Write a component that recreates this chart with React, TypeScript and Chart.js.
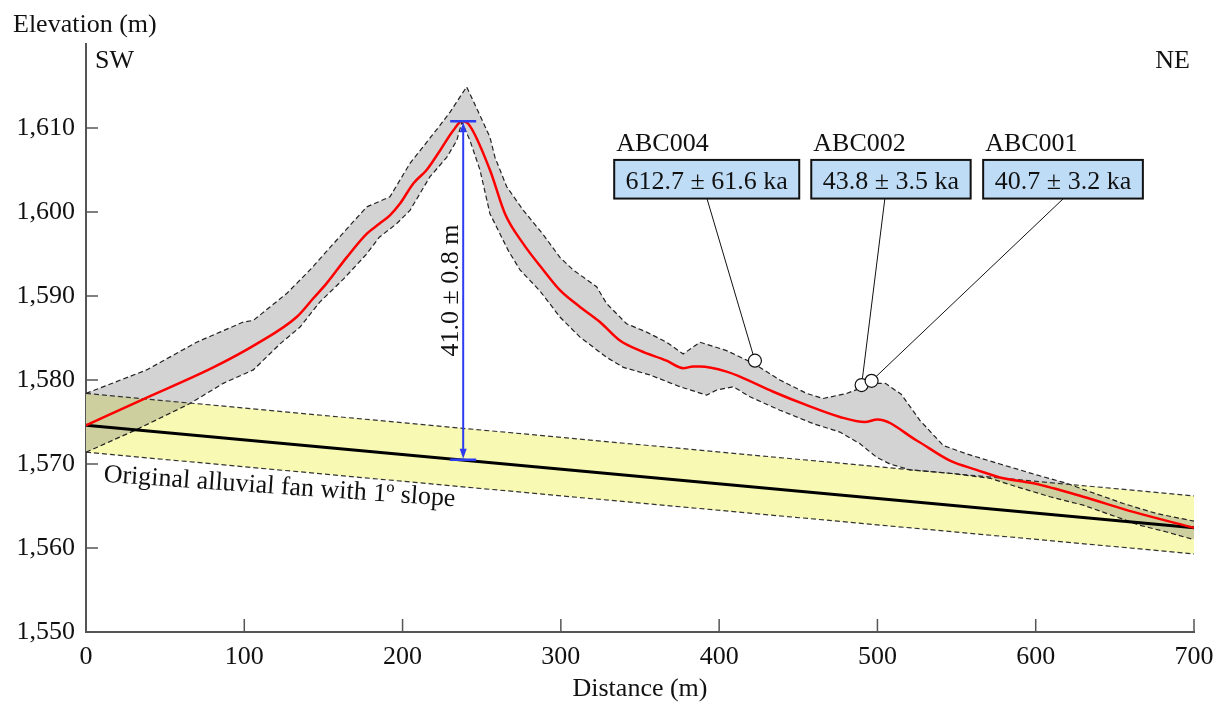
import React, { useEffect, useRef } from 'react';
import { Chart, registerables } from 'chart.js';

Chart.register(...registerables);

const FONT_FAMILY = '"Liberation Serif", "Times New Roman", Times, serif';
const FONT_SIZE = 26;
const TEXT_COLOR = '#111111';
const AXIS_COLOR = '#555555';
const BLUE = '#2d3cf0';

// ---------------- data ----------------
const xTickValues = [0, 100, 200, 300, 400, 500, 600, 700];
const yTickValues = [1550, 1560, 1570, 1580, 1590, 1600, 1610];

// central swath profile (red)
const profileDist = [0, 36, 80.4, 107.8, 133.1, 143.5, 152, 164.7, 177.3, 185.3, 192, 198.4, 206.8, 215.2, 223.6, 232, 237.5, 241.5, 255.2, 264.7, 276.3, 288.9, 299.4, 312.1, 324.7, 337.3, 350, 366.8, 377.3, 383.6, 387.9, 404.7, 413.1, 434.2, 455.3, 476.3, 492.1, 500, 524.8, 545.8, 562.6, 577.4, 598.5, 630, 661.6, 700];
const profileElev = [1574.6, 1577.7, 1581.5, 1584.3, 1587.5, 1589.7, 1591.5, 1594.6, 1597.4, 1598.6, 1599.6, 1601.0, 1603.4, 1605.0, 1607.3, 1609.7, 1610.8, 1610.5, 1605.0, 1599.8, 1596.2, 1593.1, 1590.7, 1588.7, 1586.9, 1584.7, 1583.5, 1582.3, 1581.4, 1581.6, 1581.6, 1581.0, 1580.4, 1578.6, 1577.0, 1575.6, 1575.0, 1575.3, 1572.8, 1570.4, 1569.3, 1568.4, 1567.7, 1566.1, 1564.3, 1562.4];

// swath envelope (grey band)
const envUpperDist = [0, 38.3, 69.9, 99.4, 105.7, 111, 126.8, 141.5, 156.2, 177.3, 192, 204.7, 219.4, 223.6, 230, 240.5, 248.9, 255.2, 258.4, 265.8, 276.3, 288.9, 299.4, 307.8, 322.6, 328.9, 341.5, 354.2, 366.8, 377.3, 387.9, 404.7, 421.5, 438.4, 455.3, 465.8, 480.5, 497.4, 505, 515, 526.8, 541.6, 556.4, 577.4, 600.6, 619.5, 634.2, 655.3, 676.4, 700];
const envUpperElev = [1578.4, 1581.2, 1584.5, 1586.9, 1587.1, 1587.9, 1590.3, 1593.1, 1596.2, 1600.6, 1601.8, 1605.8, 1609.3, 1610.3, 1611.9, 1614.9, 1611.5, 1608.9, 1606.5, 1603.0, 1600.2, 1597.3, 1594.6, 1593.1, 1591.1, 1589.1, 1586.7, 1585.7, 1584.5, 1583.1, 1584.5, 1583.5, 1582.0, 1580.0, 1578.4, 1577.8, 1578.4, 1579.6, 1579.6, 1578.3, 1575.2, 1572.2, 1571.2, 1570.0, 1568.7, 1567.7, 1566.7, 1565.3, 1564.1, 1563.2];
const envLowerDist = [0, 32, 65.7, 86.7, 105.7, 122.6, 135.2, 147.8, 162.6, 177.3, 185.3, 196.2, 204.7, 217.3, 227.9, 234.2, 237.5, 242.6, 248.9, 255.2, 266.8, 274.2, 286.8, 299.4, 312.1, 328.9, 339.5, 356.3, 375.2, 392.1, 398.4, 408.9, 419.5, 438.4, 459.4, 476.3, 489, 499.5, 507.9, 520.5, 545.8, 571.1, 587.9, 609, 630, 651.1, 665.9, 682.8, 700];
const envLowerElev = [1571.4, 1574.1, 1577.2, 1579.6, 1581.2, 1584.3, 1586.3, 1589.3, 1592.0, 1595.0, 1597.0, 1598.6, 1600.2, 1604.2, 1606.5, 1608.5, 1610.7, 1608.5, 1605.0, 1599.8, 1595.4, 1593.1, 1590.6, 1587.5, 1585.1, 1582.7, 1581.5, 1580.6, 1579.2, 1578.2, 1578.8, 1579.2, 1578.0, 1576.4, 1574.8, 1573.8, 1572.4, 1570.8, 1570.0, 1569.3, 1568.9, 1568.3, 1567.3, 1566.1, 1565.1, 1563.7, 1562.7, 1561.9, 1561.0];

// original alluvial fan surface (1 degree slope) and its uncertainty band
const fanDist = [0, 700];
const fanElev = [1574.6, 1562.4];
const fanUpperElev = [1578.4, 1566.2];
const fanLowerElev = [1571.4, 1559.3];

// sampled boulders
const sampleNames = ['ABC004', 'ABC002', 'ABC001'];
const sampleAges = ['612.7 ± 61.6 ka', '43.8 ± 3.5 ka', '40.7 ± 3.2 ka'];
const sampleDist = [422.6, 490, 496.3];
const sampleElev = [1582.3, 1579.4, 1579.9];

// relief measurement
const reliefDist = 238.3;
const reliefTop = 1610.8;
const reliefBottom = 1570.5;
const reliefLabel = '41.0 ± 0.8 m';

const yTitle = 'Elevation (m)';
const xTitle = 'Distance (m)';
const fanLabel = 'Original alluvial fan with 1º slope';

// ---------------- annotation layout (data units) ----------------
const boxLeft = [333.7, 458.2, 566.8];
const boxRight = [450.6, 558.9, 667.7];
const leaderDist = [392.3, 504.7, 617.5];
const BOX_TOP = 1606.2;
const BOX_BOTTOM = 1601.6;
const FAN_LABEL_AT = [10.9, 1567.9];
const FAN_LABEL_ANGLE = 4;

const toXY = (xs: number[], ys: number[]) => xs.map((x, i) => ({ x, y: ys[i] }));

const font = (size = FONT_SIZE) => `${size}px ${FONT_FAMILY}`;

const annotationPlugin = {
  id: 'profileAnnotations',
  afterDraw(chart: any) {
    const { ctx, chartArea, scales } = chart;
    const xs = scales.x;
    const ys = scales.y;
    const px = (v: number) => xs.getPixelForValue(v);
    const py = (v: number) => ys.getPixelForValue(v);
    ctx.save();

    // inward tick marks
    ctx.strokeStyle = AXIS_COLOR;
    ctx.lineWidth = 1.5;
    xs.ticks.forEach((t: any) => {
      const x = px(t.value);
      ctx.beginPath();
      ctx.moveTo(x, chartArea.bottom);
      ctx.lineTo(x, chartArea.bottom - 13);
      ctx.stroke();
    });
    ys.ticks.forEach((t: any) => {
      const y = py(t.value);
      ctx.beginPath();
      ctx.moveTo(chartArea.left, y);
      ctx.lineTo(chartArea.left + 12, y);
      ctx.stroke();
    });

    // titles and orientation labels
    ctx.fillStyle = TEXT_COLOR;
    ctx.font = font();
    ctx.textBaseline = 'alphabetic';
    ctx.textAlign = 'left';
    ctx.fillText(yTitle, chartArea.left - 73, chartArea.top - 12);
    ctx.fillText('SW', chartArea.left + 9, chartArea.top + 24);
    ctx.textAlign = 'right';
    ctx.fillText('NE', chartArea.right - 4, chartArea.top + 24);

    // fan label
    ctx.save();
    ctx.translate(px(FAN_LABEL_AT[0]), py(FAN_LABEL_AT[1]));
    ctx.rotate((FAN_LABEL_ANGLE * Math.PI) / 180);
    ctx.textAlign = 'left';
    ctx.fillText(fanLabel, 0, 0);
    ctx.restore();

    // relief arrow
    const ax = px(reliefDist);
    const aTop = py(reliefTop);
    const aBot = py(reliefBottom);
    ctx.strokeStyle = BLUE;
    ctx.fillStyle = BLUE;
    ctx.lineWidth = 2;
    ctx.beginPath();
    ctx.moveTo(ax, aTop + 8);
    ctx.lineTo(ax, aBot - 8);
    ctx.stroke();
    ctx.beginPath();
    ctx.moveTo(ax, aTop + 1);
    ctx.lineTo(ax - 3.5, aTop + 11);
    ctx.lineTo(ax + 3.5, aTop + 11);
    ctx.closePath();
    ctx.fill();
    ctx.beginPath();
    ctx.moveTo(ax, aBot - 1);
    ctx.lineTo(ax - 3.5, aBot - 11);
    ctx.lineTo(ax + 3.5, aBot - 11);
    ctx.closePath();
    ctx.fill();
    ctx.lineWidth = 2.5;
    ctx.beginPath();
    ctx.moveTo(ax - 13, aTop);
    ctx.lineTo(ax + 13, aTop);
    ctx.moveTo(ax - 13, aBot);
    ctx.lineTo(ax + 13, aBot);
    ctx.stroke();
    ctx.save();
    ctx.translate(ax - 5, (aTop + aBot) / 2);
    ctx.rotate(-Math.PI / 2);
    ctx.fillStyle = TEXT_COLOR;
    ctx.textAlign = 'center';
    ctx.fillText(reliefLabel, 0, 0);
    ctx.restore();

    // sample boxes with leaders
    sampleNames.forEach((name, i) => {
      const l = px(boxLeft[i]);
      const r = px(boxRight[i]);
      const t = py(BOX_TOP);
      const b = py(BOX_BOTTOM);
      const lx = px(leaderDist[i]);
      const cx = px(sampleDist[i]);
      const cy = py(sampleElev[i]);
      const dx = lx - cx;
      const dy = b - cy;
      const d = Math.hypot(dx, dy);
      const rad = 6.5;
      ctx.strokeStyle = '#111';
      ctx.lineWidth = 1;
      ctx.beginPath();
      ctx.moveTo(lx, b);
      ctx.lineTo(cx + (dx / d) * rad, cy + (dy / d) * rad);
      ctx.stroke();

      ctx.fillStyle = '#bfdcf7';
      ctx.fillRect(l, t, r - l, b - t);
      ctx.lineWidth = 2;
      ctx.strokeRect(l, t, r - l, b - t);

      ctx.fillStyle = TEXT_COLOR;
      ctx.textAlign = 'center';
      ctx.fillText(sampleAges[i], (l + r) / 2, b - 10);
      ctx.textAlign = 'left';
      ctx.fillText(name, l + 2, t - 9);
    });

    ctx.restore();
  },
};

export default function App() {
  const ref = useRef<HTMLCanvasElement | null>(null);

  useEffect(() => {
    if (!ref.current) return;
    Chart.defaults.font.family = FONT_FAMILY;
    Chart.defaults.font.size = FONT_SIZE;
    Chart.defaults.color = TEXT_COLOR;

    const chart = new Chart(ref.current, {
      type: 'line',
      data: {
        datasets: [
          {
            label: 'Samples',
            data: toXY(sampleDist, sampleElev),
            showLine: false,
            pointRadius: 6.5,
            pointBackgroundColor: '#ffffff',
            pointBorderColor: '#111111',
            pointBorderWidth: 1.2,
            order: 0,
          },
          {
            label: 'Swath mean',
            data: toXY(profileDist, profileElev),
            borderColor: '#ff0000',
            borderWidth: 2.5,
            pointRadius: 0,
            cubicInterpolationMode: 'monotone',
            fill: false,
            order: 1,
          },
          {
            label: 'Original fan',
            data: toXY(fanDist, fanElev),
            borderColor: '#000000',
            borderWidth: 3,
            pointRadius: 0,
            fill: false,
            order: 2,
          },
          {
            label: 'Swath max',
            data: toXY(envUpperDist, envUpperElev),
            borderColor: '#222222',
            borderWidth: 1.2,
            borderDash: [5, 3],
            pointRadius: 0,
            backgroundColor: 'rgba(120,120,120,0.33)',
            fill: 4,
            order: 3,
          },
          {
            label: 'Swath min',
            data: toXY(envLowerDist, envLowerElev),
            borderColor: '#222222',
            borderWidth: 1.2,
            borderDash: [5, 3],
            pointRadius: 0,
            fill: false,
            order: 4,
          },
          {
            label: 'Fan upper',
            data: toXY(fanDist, fanUpperElev),
            borderColor: '#333333',
            borderWidth: 1.2,
            borderDash: [5, 3],
            pointRadius: 0,
            backgroundColor: 'rgb(248,249,178)',
            fill: 6,
            order: 5,
          },
          {
            label: 'Fan lower',
            data: toXY(fanDist, fanLowerElev),
            borderColor: '#333333',
            borderWidth: 1.2,
            borderDash: [5, 3],
            pointRadius: 0,
            fill: false,
            order: 6,
          },
        ],
      },
      options: {
        animation: false,
        responsive: false,
        devicePixelRatio: 1,
        layout: { padding: { top: 44, right: 33, bottom: 0, left: 0 } },
        plugins: {
          legend: { display: false },
          tooltip: { enabled: false },
          filler: { drawTime: 'beforeDatasetsDraw' },
        },
        scales: {
          x: {
            type: 'linear',
            min: 0,
            max: 700,
            afterBuildTicks: (scale: any) => {
              scale.ticks = xTickValues.map((v) => ({ value: v }));
            },
            afterFit: (scale: any) => {
              scale.height = 77;
            },
            ticks: {
              padding: 10,
              color: TEXT_COLOR,
              font: { size: FONT_SIZE, family: FONT_FAMILY },
              callback: (v: any) => String(v),
            },
            grid: { display: false, drawTicks: false },
            border: { display: true, color: AXIS_COLOR, width: 2 },
            title: {
              display: true,
              text: xTitle,
              color: TEXT_COLOR,
              font: { size: FONT_SIZE, family: FONT_FAMILY },
              padding: { top: 0, bottom: 4 },
            },
          },
          y: {
            type: 'linear',
            min: 1550,
            max: 1620,
            afterBuildTicks: (scale: any) => {
              scale.ticks = yTickValues.map((v) => ({ value: v }));
            },
            afterFit: (scale: any) => {
              scale.width = 86;
            },
            ticks: {
              padding: 11,
              color: TEXT_COLOR,
              font: { size: FONT_SIZE, family: FONT_FAMILY },
              callback: (v: any) => Number(v).toLocaleString('en-US'),
            },
            grid: { display: false, drawTicks: false },
            border: { display: true, color: AXIS_COLOR, width: 2 },
          },
        },
      },
      plugins: [annotationPlugin],
    } as any);

    return () => chart.destroy();
  }, []);

  return (
    <div style={{ position: 'absolute', left: 0, top: 0, width: 1227, height: 709, background: '#ffffff' }}>
      <canvas ref={ref} width={1227} height={709} style={{ display: 'block', width: 1227, height: 709 }} />
    </div>
  );
}
